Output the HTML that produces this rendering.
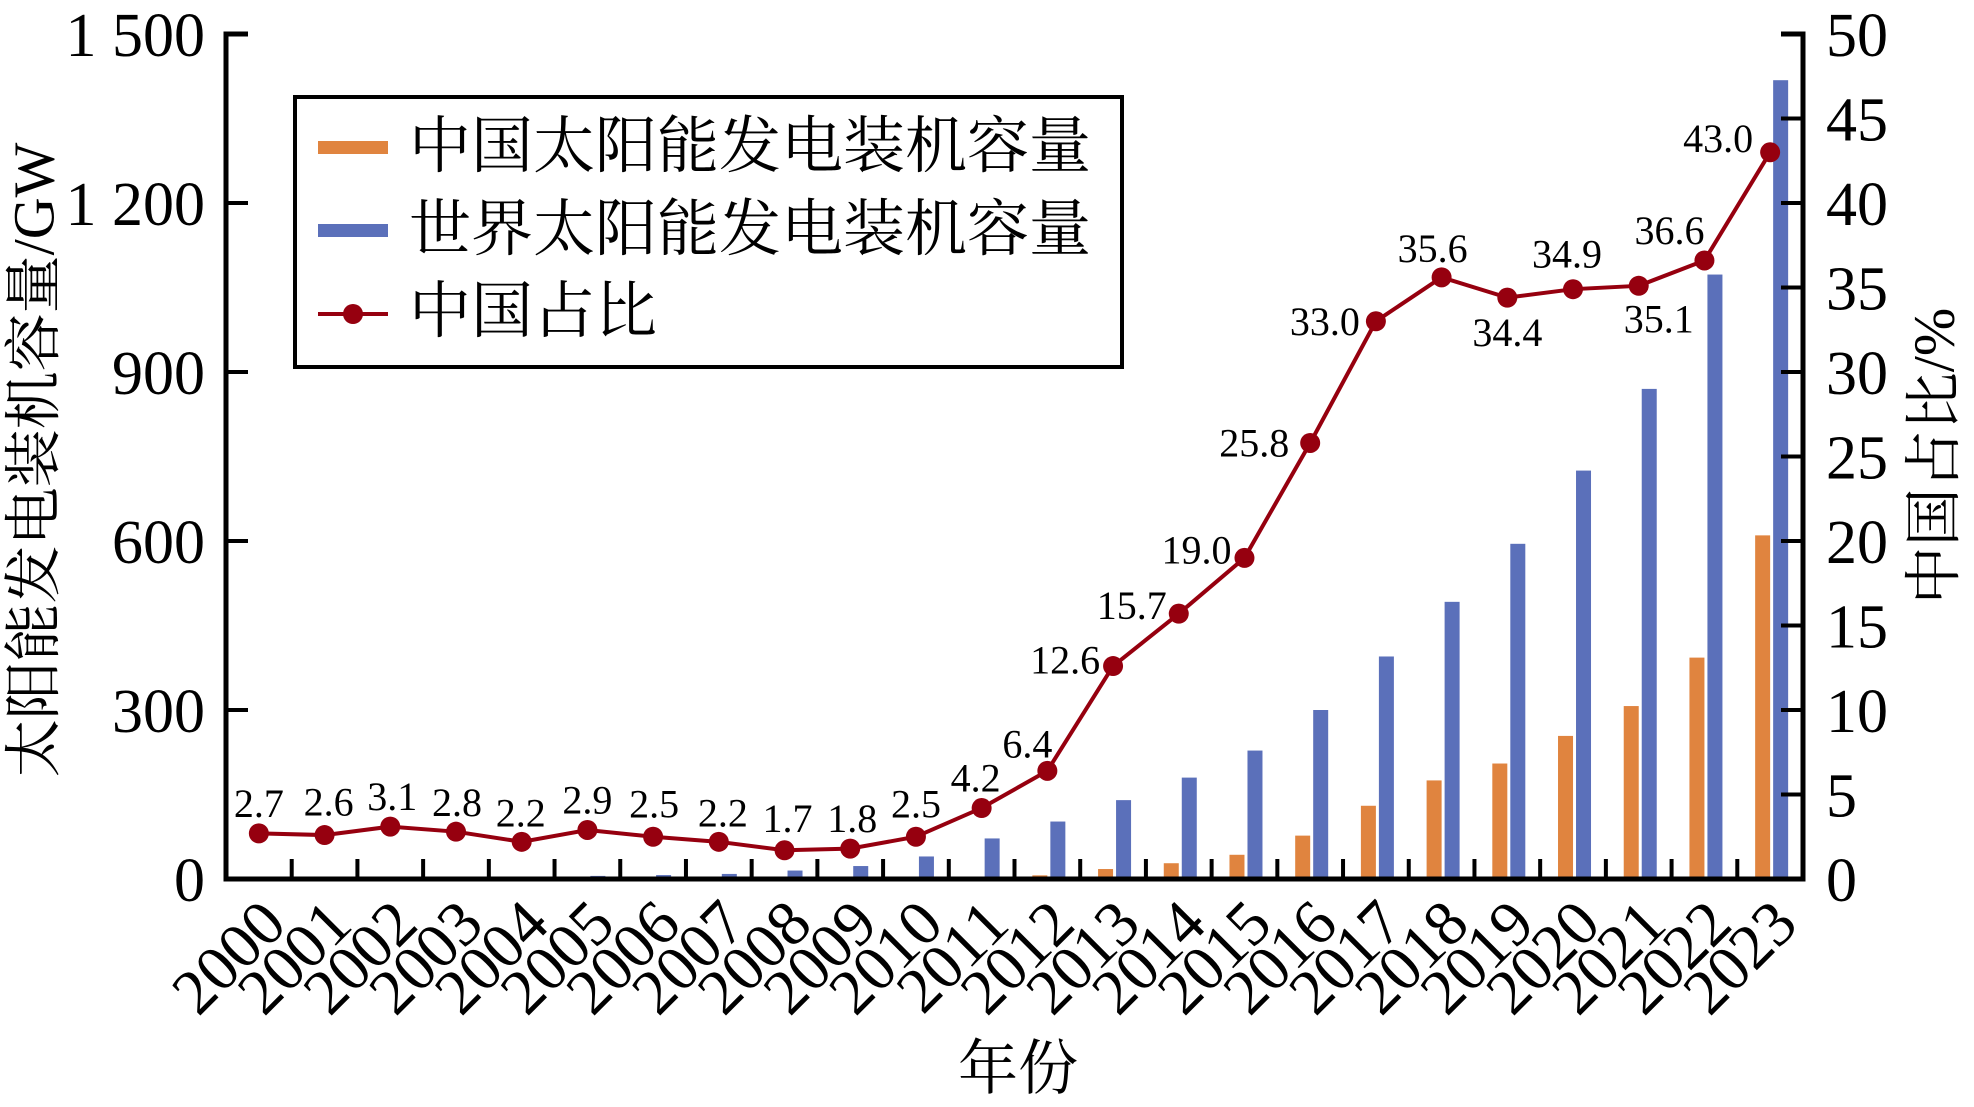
<!DOCTYPE html>
<html><head><meta charset="utf-8"><style>
html,body{margin:0;padding:0;background:#fff;}
svg{display:block;font-family:"Liberation Serif","Noto Serif CJK SC",serif;}
</style></head><body>
<svg id="chart" width="1974" height="1107" viewBox="0 0 1974 1107" xmlns="http://www.w3.org/2000/svg">
<g id="bars"></g>
<g id="axes"></g>
<g id="line"></g>
<g id="legend">
  <rect x="295" y="97" width="827" height="270" fill="#fff" stroke="#000" stroke-width="4"/>
  <g>
    <rect x="318" y="141" width="70" height="13" fill="#E0843F"/>
    <text x="409" y="147" font-size="62" dominant-baseline="central">中国太阳能发电装机容量</text>
  </g>
  <g>
    <rect x="318" y="224" width="70" height="13" fill="#5B70BA"/>
    <text x="409" y="230" font-size="62" dominant-baseline="central">世界太阳能发电装机容量</text>
  </g>
  <g>
    <line x1="318" y1="314" x2="388" y2="314" stroke="#96000F" stroke-width="4"/>
    <circle cx="353" cy="314" r="10" fill="#96000F"/>
    <text x="409" y="312" font-size="62" dominant-baseline="central">中国占比</text>
  </g>
</g>
<text x="0" y="0" font-size="58" text-anchor="middle" dominant-baseline="central" transform="translate(34,460) rotate(-90)">太阳能发电装机容量/GW</text>
<text x="0" y="0" font-size="58" text-anchor="middle" dominant-baseline="central" transform="translate(1934,456) rotate(-90)">中国占比/%</text>
<text x="1018" y="1069" font-size="60" text-anchor="middle" dominant-baseline="central">年份</text>
</svg>
<script>
const years = ["2000","2001","2002","2003","2004","2005","2006","2007","2008","2009","2010","2011","2012","2013","2014","2015","2016","2017","2018","2019","2020","2021","2022","2023"];
const chinaCapacity = [0.02,0.03,0.04,0.05,0.06,0.07,0.08,0.1,0.14,0.3,0.8,3,6.5,17.7,28,43,77,130,175,205,254,307,393,610];
const worldCapacity = [1.2,1.5,2,2.8,4,5.5,7,9,15,23,40,72,102,140,180,228,300,395,492,595,725,870,1073,1418];
const chinaShare = [2.7,2.6,3.1,2.8,2.2,2.9,2.5,2.2,1.7,1.8,2.5,4.2,6.4,12.6,15.7,19.0,25.8,33.0,35.6,34.4,34.9,35.1,36.6,43.0];
const shareLabels = ["2.7","2.6","3.1","2.8","2.2","2.9","2.5","2.2","1.7","1.8","2.5","4.2","6.4","12.6","15.7","19.0","25.8","33.0","35.6","34.4","34.9","35.1","36.6","43.0"];
const leftTicks = [0,300,600,900,1200,1500];
const leftTickLabels = ["0","300","600","900","1 200","1 500"];
const rightTicks = [0,5,10,15,20,25,30,35,40,45,50];
const rightTickLabels = ["0","5","10","15","20","25","30","35","40","45","50"];
// label offsets (layout only, display px relative to point)
const labelOffsets = [[0,-30],[4,-33],[2,-30],[1,-29],[-1,-29],[0,-30],[1,-33],[4,-29],[3,-32],[2,-30],[0,-33],[-6,-30],[-20,-27],[-48,-6],[-47,-8],[-48,-8],[-56,0],[-51,0],[-9,-29],[0,35],[-6,-35],[20,33],[-35,-30],[-52,-14]];

const NS="http://www.w3.org/2000/svg";
const X0=226, X1=1803, Y0=879, Y1=34;
const bw=(X1-X0)/years.length;
const xc=i=>X0+(i+0.5)*bw;
const yL=v=>Y0-(v/1500)*(Y0-Y1);
const yR=v=>Y0-(v/50)*(Y0-Y1);
function mk(tag,parent,attrs){const e=document.createElementNS(NS,tag);for(const k in attrs)e.setAttribute(k,attrs[k]);parent.appendChild(e);return e;}
const gb=document.getElementById('bars'), ga=document.getElementById('axes'), gl=document.getElementById('line');
years.forEach((y,i)=>{
  const c=xc(i);
  const hc=Y0-yL(chinaCapacity[i]);
  const r1=mk('rect',gb,{x:c-15,y:yL(chinaCapacity[i]),width:15,height:Math.max(hc,0),fill:'#E0843F'});
  
  
  const hw=Y0-yL(worldCapacity[i]);
  const r2=mk('rect',gb,{x:c+3,y:yL(worldCapacity[i]),width:15,height:Math.max(hw,0),fill:'#5B70BA'});
  
  
  const t=mk('text',ga,{x:0,y:0,'font-size':64,'text-anchor':'end',transform:`translate(${c+30},${Y0+48}) rotate(-45)`});
  t.textContent=y;
  
  
  if(i>0){const tk=mk('line',ga,{x1:X0+i*bw,y1:Y0,x2:X0+i*bw,y2:Y0-20,stroke:'#000','stroke-width':4});
    
    }
});
const axl=mk('path',ga,{d:`M${X0+22},${Y1} H${X0} V${Y0} H${X1} V${Y1} H${X1-22}`,fill:'none',stroke:'#000','stroke-width':5});


leftTicks.forEach((v,i)=>{
  const y=yL(v);
  const l=mk('line',ga,{x1:X0,y1:y,x2:X0+22,y2:y,stroke:'#000','stroke-width':4});
  
  
  const t=mk('text',ga,{x:205,y:y+2,'font-size':62,'text-anchor':'end','dominant-baseline':'central'});
  t.textContent=leftTickLabels[i];
  
  
});
rightTicks.forEach((v,i)=>{
  const y=yR(v);
  const l=mk('line',ga,{x1:X1-22,y1:y,x2:X1,y2:y,stroke:'#000','stroke-width':4});
  
  
  const t=mk('text',ga,{x:1826,y:y+2,'font-size':62,'text-anchor':'start','dominant-baseline':'central'});
  t.textContent=rightTickLabels[i];
  
  
});
const pts=chinaShare.map((v,i)=>xc(i)+','+yR(v)).join(' ');
const pl=mk('polyline',gl,{points:pts,fill:'none',stroke:'#96000F','stroke-width':4});


chinaShare.forEach((v,i)=>{
  const cx=xc(i), cy=yR(v);
  const c=mk('circle',gl,{cx:cx,cy:cy,r:10,fill:'#96000F'});
  
  
  const o=labelOffsets[i];
  const t=mk('text',gl,{x:cx+o[0],y:cy+o[1],'font-size':40,'text-anchor':'middle','dominant-baseline':'central'});
  t.textContent=shareLabels[i];
  
  
});
</script>
</body></html>
